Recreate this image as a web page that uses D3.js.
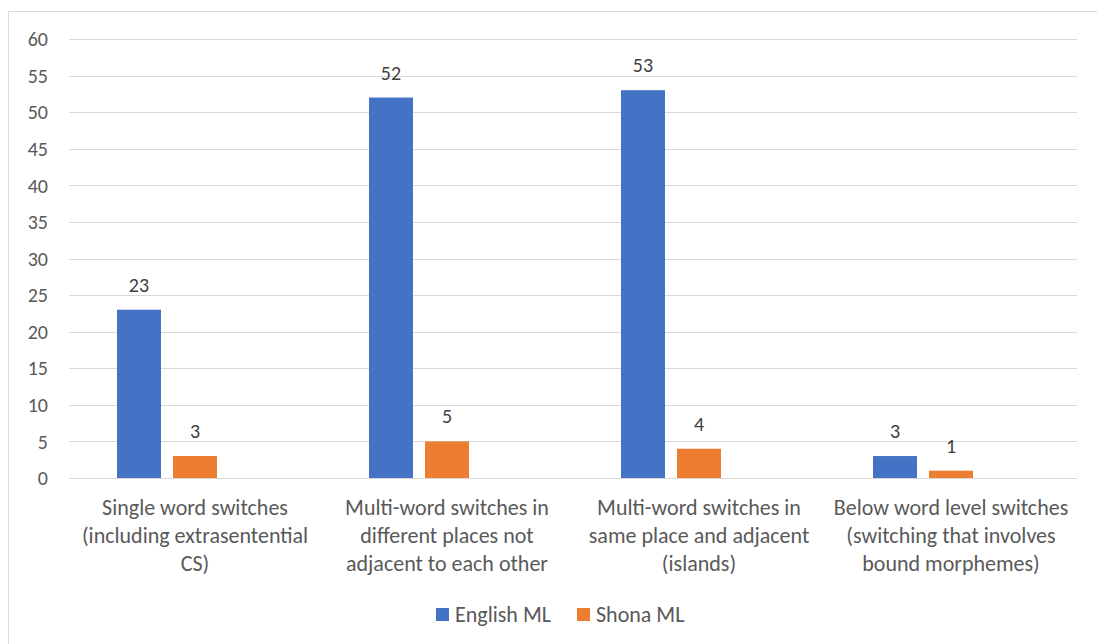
<!DOCTYPE html>
<html>
<head>
<meta charset="utf-8">
<script src="https://cdn.jsdelivr.net/npm/d3@7"></script>
<style>
  body { margin: 0; background: #fff; }
  text { font-family: Carlito, Calibri, Lato, sans-serif; }
</style>
</head>
<body>
<div id="chart"></div>
<script>
// chart data
const categories = [
  ["Single word switches", "(including extrasentential", "CS)"],
  ["Multi-word switches in", "different places not", "adjacent to each other"],
  ["Multi-word switches in", "same place and adjacent", "(islands)"],
  ["Below word level switches", "(switching that involves", "bound morphemes)"]
];
const seriesNames = ["English ML", "Shona ML"];
const englishML = [23, 52, 53, 3];
const shonaML = [3, 5, 4, 1];
const yTicks = [0, 5, 10, 15, 20, 25, 30, 35, 40, 45, 50, 55, 60];
const colors = ["#4472c4", "#ed7d31"];

const W = 1097, H = 644;
const margin = {top: 39, right: 20, bottom: 166, left: 69},
    width = 1077 - margin.left,
    height = H - margin.top - margin.bottom;

const svg = d3.select("#chart")
  .append("svg")
    .attr("width", W)
    .attr("height", H);

// chart border
svg.append("rect")
  .attr("x", 8.5).attr("y", 11.5)
  .attr("width", W).attr("height", H)
  .attr("fill", "none")
  .attr("stroke", "#d9d9d9")
  .attr("stroke-width", 1);

const g = svg.append("g")
  .attr("transform", "translate(" + margin.left + "," + margin.top + ")");

const idx = categories.map((d, i) => i);

const x0 = d3.scaleBand()
  .domain(idx)
  .range([0, width])
  .padding(0);

// two series in a group, offset like the Excel cluster
const x1 = d3.scaleBand()
  .domain(seriesNames)
  .range([48, 148])
  .paddingInner(12 / 56);

const y = d3.scaleLinear()
  .domain([0, 60])
  .range([height, 0]);

// gridlines
g.selectAll(".grid")
  .data(yTicks)
  .enter().append("line")
    .attr("x1", 0).attr("x2", width)
    .attr("y1", d => Math.round(y(d)) + 0.5)
    .attr("y2", d => Math.round(y(d)) + 0.5)
    .attr("stroke", "#d9d9d9")
    .attr("stroke-width", 1);

// y axis labels
g.selectAll(".ylab")
  .data(yTicks)
  .enter().append("text")
    .attr("x", -21)
    .attr("y", d => y(d))
    .attr("dy", "0.36em")
    .attr("text-anchor", "end")
    .attr("fill", "#595959")
    .style("font-size", "20px")
    .text(d => d);

const rows = [];
idx.forEach(i => {
  rows.push({cat: i, s: seriesNames[0], v: englishML[i], c: colors[0]});
  rows.push({cat: i, s: seriesNames[1], v: shonaML[i], c: colors[1]});
});

g.selectAll(".bar")
  .data(rows)
  .enter().append("rect")
    .attr("x", d => x0(d.cat) + x1(d.s))
    .attr("y", d => y(d.v))
    .attr("width", x1.bandwidth())
    .attr("height", d => y(0) - y(d.v))
    .attr("fill", d => d.c);

// data labels
g.selectAll(".val")
  .data(rows)
  .enter().append("text")
    .attr("x", d => x0(d.cat) + x1(d.s) + x1.bandwidth() / 2)
    .attr("y", d => y(d.v) - 18)
    .attr("text-anchor", "middle")
    .attr("fill", "#404040")
    .style("font-size", "20px")
    .text(d => d.v);

// category labels
const cl = g.selectAll(".cat")
  .data(categories)
  .enter().append("text")
    .attr("text-anchor", "middle")
    .attr("fill", "#595959")
    .style("font-size", "22px")
    .attr("transform", (d, i) => "translate(" + (x0(i) + x0.bandwidth() / 2) + "," + (height + 37) + ")");
cl.selectAll("tspan")
  .data(d => d)
  .enter().append("tspan")
    .attr("x", 0)
    .attr("y", (d, i) => i * 28)
    .text(d => d);

// legend
const legend = svg.append("g")
  .attr("transform", "translate(436,608)");
const lx = [0, 141];
seriesNames.forEach((s, i) => {
  legend.append("rect")
    .attr("x", lx[i]).attr("y", 0)
    .attr("width", 13).attr("height", 13)
    .attr("fill", colors[i]);
  legend.append("text")
    .attr("x", lx[i] + 19)
    .attr("y", 6.5)
    .attr("dy", "0.36em")
    .attr("fill", "#595959")
    .style("font-size", "22px")
    .text(s);
});
</script>
</body>
</html>
